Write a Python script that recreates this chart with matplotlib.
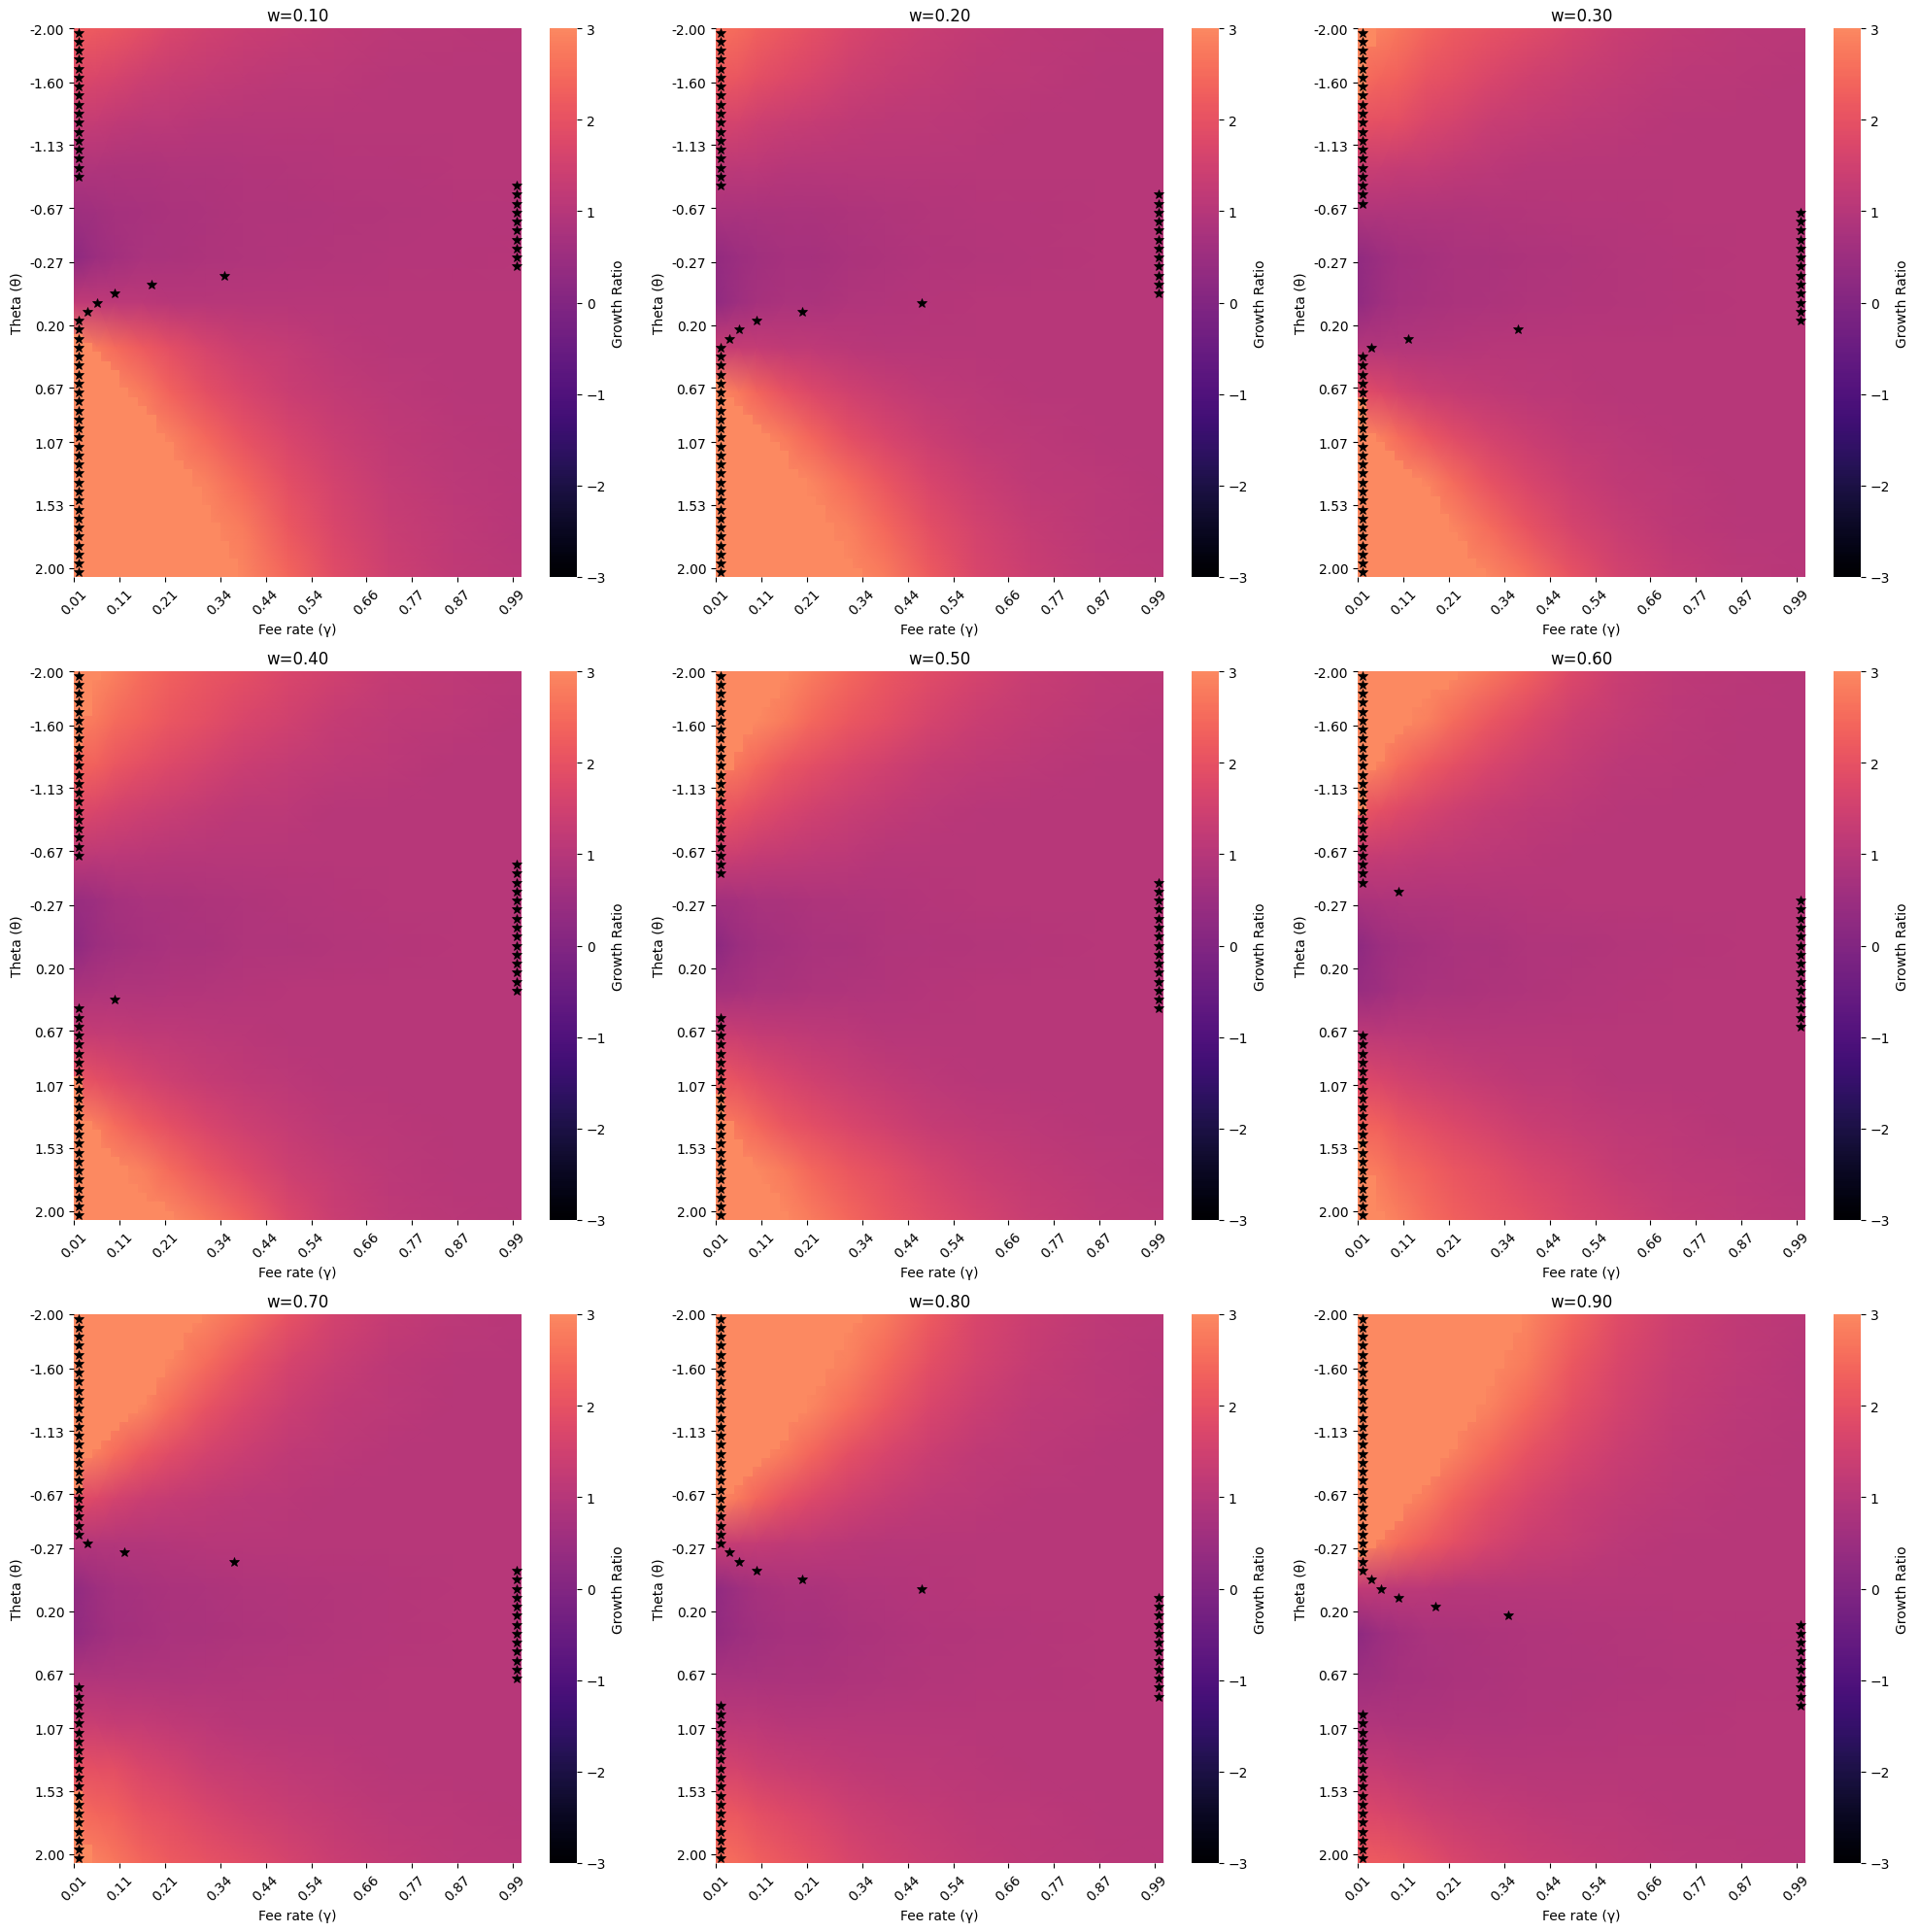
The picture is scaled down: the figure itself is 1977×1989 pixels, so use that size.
import numpy as np
import matplotlib
matplotlib.use("Agg")
import matplotlib.pyplot as plt
from matplotlib.colors import ListedColormap

# axis labels, same on all panels
gamma_labels = ["0.01", "0.11", "0.21", "0.34", "0.44", "0.54", "0.66", "0.77", "0.87", "0.99"]
gamma_ticks = [0, 5, 10, 16, 21, 26, 32, 37, 42, 48]
theta_labels = ["-2.00", "-1.60", "-1.13", "-0.67", "-0.27", "0.20", "0.67", "1.07", "1.53", "2.00"]
theta_ticks = [0, 6, 13, 20, 26, 33, 40, 46, 53, 60]
n_cols = 49
n_rows = 61

read_cols = [0, 2, 4, 7, 10, 14, 18, 23, 28, 34, 41, 48]
read_rows = [0, 5, 10, 15, 20, 25, 30, 35, 40, 45, 50, 55, 60]

w10 = [
    [2.2, 2.2, 2.1, 1.9, 1.7, 1.5, 1.4, 1.27, 1.18, 1.12, 1.07, 1.04],
    [1.8, 1.7, 1.6, 1.45, 1.35, 1.25, 1.2, 1.12, 1.08, 1.05, 1.02, 1.0],
    [1.3, 1.25, 1.2, 1.12, 1.1, 1.05, 1.03, 1.02, 1.0, 1.0, 1.0, 1.0],
    [0.9, 0.88, 0.85, 0.85, 0.87, 0.9, 0.92, 0.95, 0.97, 0.98, 1.0, 1.0],
    [0.55, 0.62, 0.68, 0.74, 0.78, 0.83, 0.87, 0.9, 0.93, 0.95, 0.97, 0.98],
    [0.25, 0.5, 0.65, 0.75, 0.8, 0.85, 0.9, 0.93, 0.95, 0.97, 0.98, 0.99],
    [1.2, 1.15, 1.1, 1.1, 1.05, 1.03, 1.0, 1.0, 1.0, 1.0, 1.0, 1.0],
    [3.0, 2.8, 2.5, 2.2, 1.9, 1.6, 1.4, 1.25, 1.12, 1.05, 1.02, 1.0],
    [3.0, 3.0, 3.0, 2.8, 2.35, 1.95, 1.65, 1.4, 1.22, 1.1, 1.05, 1.02],
    [3.0, 3.0, 3.0, 3.0, 2.9, 2.45, 2.0, 1.65, 1.38, 1.18, 1.07, 1.03],
    [3.0, 3.0, 3.0, 3.0, 3.0, 2.9, 2.45, 1.9, 1.55, 1.25, 1.1, 1.05],
    [3.0, 3.0, 3.0, 3.0, 3.0, 3.0, 2.8, 2.15, 1.7, 1.35, 1.15, 1.05],
    [3.0, 3.0, 3.0, 3.0, 3.0, 3.0, 2.95, 2.4, 1.85, 1.45, 1.2, 1.07],
]
w20 = [
    [2.6, 2.5, 2.3, 2.15, 1.95, 1.7, 1.5, 1.35, 1.22, 1.13, 1.07, 1.04],
    [2.2, 2.1, 1.95, 1.8, 1.65, 1.45, 1.32, 1.22, 1.13, 1.08, 1.04, 1.02],
    [1.6, 1.55, 1.45, 1.35, 1.28, 1.2, 1.14, 1.1, 1.06, 1.03, 1.01, 1.0],
    [1.15, 1.12, 1.08, 1.05, 1.03, 1.0, 1.0, 1.0, 1.0, 1.0, 1.0, 1.0],
    [0.75, 0.75, 0.77, 0.8, 0.82, 0.86, 0.9, 0.95, 0.97, 0.98, 0.99, 1.0],
    [0.35, 0.5, 0.6, 0.68, 0.72, 0.78, 0.85, 0.92, 0.96, 0.98, 0.99, 1.0],
    [0.3, 0.55, 0.68, 0.78, 0.82, 0.88, 0.93, 0.97, 1.0, 1.0, 1.0, 1.0],
    [1.35, 1.3, 1.25, 1.2, 1.15, 1.07, 1.03, 1.0, 1.0, 1.0, 1.0, 1.0],
    [3.0, 2.75, 2.4, 2.0, 1.75, 1.5, 1.33, 1.17, 1.08, 1.04, 1.02, 1.0],
    [3.0, 3.0, 3.0, 2.8, 2.4, 1.95, 1.65, 1.4, 1.2, 1.1, 1.05, 1.02],
    [3.0, 3.0, 3.0, 3.0, 2.95, 2.55, 2.1, 1.65, 1.4, 1.17, 1.08, 1.03],
    [3.0, 3.0, 3.0, 3.0, 3.0, 2.9, 2.45, 1.9, 1.55, 1.3, 1.12, 1.05],
    [3.0, 3.0, 3.0, 3.0, 3.0, 3.0, 2.8, 2.2, 1.7, 1.38, 1.15, 1.07],
]
w30 = [
    [2.9, 2.9, 2.7, 2.4, 2.2, 2.0, 1.85, 1.6, 1.4, 1.22, 1.12, 1.06],
    [2.6, 2.4, 2.3, 2.05, 1.9, 1.7, 1.5, 1.35, 1.22, 1.12, 1.06, 1.03],
    [2.0, 1.95, 1.9, 1.7, 1.55, 1.35, 1.25, 1.15, 1.1, 1.05, 1.02, 1.0],
    [1.4, 1.35, 1.3, 1.25, 1.18, 1.1, 1.05, 1.0, 1.0, 1.0, 1.0, 1.0],
    [0.9, 0.9, 0.9, 0.9, 0.9, 0.93, 0.95, 0.97, 0.98, 1.0, 1.0, 1.0],
    [0.3, 0.5, 0.65, 0.72, 0.75, 0.8, 0.85, 0.9, 0.95, 0.98, 1.0, 1.0],
    [0.3, 0.55, 0.66, 0.74, 0.78, 0.84, 0.88, 0.92, 0.96, 0.98, 1.0, 1.0],
    [0.95, 0.95, 0.95, 0.95, 0.97, 1.0, 1.0, 1.0, 1.0, 1.0, 1.0, 1.0],
    [1.9, 1.75, 1.55, 1.4, 1.3, 1.2, 1.12, 1.06, 1.03, 1.0, 1.0, 1.0],
    [3.0, 2.85, 2.55, 2.15, 1.85, 1.55, 1.37, 1.2, 1.1, 1.05, 1.02, 1.0],
    [3.0, 3.0, 3.0, 2.95, 2.5, 2.0, 1.7, 1.4, 1.2, 1.08, 1.03, 1.02],
    [3.0, 3.0, 3.0, 3.0, 2.95, 2.5, 2.05, 1.6, 1.35, 1.13, 1.05, 1.02],
    [3.0, 3.0, 3.0, 3.0, 3.0, 2.95, 2.6, 2.0, 1.55, 1.27, 1.08, 1.04],
]
w40 = [
    [3.0, 3.0, 2.85, 2.55, 2.3, 2.1, 1.95, 1.7, 1.5, 1.3, 1.17, 1.07],
    [2.9, 2.75, 2.5, 2.3, 2.1, 1.9, 1.7, 1.5, 1.3, 1.17, 1.08, 1.03],
    [2.4, 2.3, 2.1, 1.9, 1.75, 1.55, 1.4, 1.25, 1.15, 1.08, 1.03, 1.0],
    [1.8, 1.7, 1.55, 1.45, 1.35, 1.22, 1.13, 1.08, 1.03, 1.0, 1.0, 1.0],
    [1.15, 1.12, 1.1, 1.07, 1.05, 1.02, 1.0, 1.0, 1.0, 1.0, 1.0, 1.0],
    [0.4, 0.55, 0.68, 0.75, 0.8, 0.85, 0.9, 0.94, 0.97, 0.99, 1.0, 1.0],
    [0.25, 0.5, 0.63, 0.72, 0.76, 0.82, 0.87, 0.91, 0.94, 0.97, 0.99, 1.0],
    [0.8, 0.85, 0.87, 0.9, 0.93, 0.95, 0.97, 0.99, 1.0, 1.0, 1.0, 1.0],
    [1.35, 1.3, 1.25, 1.2, 1.17, 1.12, 1.06, 1.03, 1.0, 1.0, 1.0, 1.0],
    [2.1, 1.95, 1.8, 1.6, 1.45, 1.3, 1.2, 1.1, 1.05, 1.02, 1.0, 1.0],
    [3.0, 2.85, 2.55, 2.2, 1.95, 1.65, 1.45, 1.25, 1.12, 1.06, 1.02, 1.0],
    [3.0, 3.0, 3.0, 2.9, 2.5, 2.1, 1.8, 1.45, 1.25, 1.1, 1.04, 1.0],
    [3.0, 3.0, 3.0, 3.0, 3.0, 2.7, 2.3, 1.75, 1.4, 1.15, 1.06, 1.02],
]
w50 = [
    [3.0, 3.0, 3.0, 3.0, 2.8, 2.45, 2.15, 1.85, 1.6, 1.35, 1.18, 1.08],
    [3.0, 3.0, 3.0, 2.8, 2.45, 2.15, 1.9, 1.6, 1.4, 1.22, 1.1, 1.04],
    [2.8, 2.7, 2.45, 2.1, 1.9, 1.7, 1.5, 1.3, 1.18, 1.1, 1.04, 1.0],
    [2.2, 2.0, 1.85, 1.65, 1.5, 1.35, 1.22, 1.12, 1.05, 1.02, 1.0, 1.0],
    [1.45, 1.38, 1.3, 1.22, 1.15, 1.08, 1.03, 1.0, 1.0, 1.0, 1.0, 1.0],
    [0.65, 0.7, 0.75, 0.8, 0.85, 0.9, 0.93, 0.97, 0.99, 1.0, 1.0, 1.0],
    [0.2, 0.48, 0.62, 0.7, 0.76, 0.82, 0.87, 0.92, 0.95, 0.98, 1.0, 1.0],
    [0.65, 0.7, 0.75, 0.8, 0.85, 0.9, 0.93, 0.97, 0.99, 1.0, 1.0, 1.0],
    [1.45, 1.38, 1.3, 1.22, 1.15, 1.08, 1.03, 1.0, 1.0, 1.0, 1.0, 1.0],
    [2.2, 2.0, 1.85, 1.65, 1.5, 1.35, 1.22, 1.12, 1.05, 1.02, 1.0, 1.0],
    [2.8, 2.7, 2.45, 2.1, 1.9, 1.7, 1.5, 1.3, 1.18, 1.1, 1.04, 1.0],
    [3.0, 3.0, 3.0, 2.8, 2.45, 2.15, 1.9, 1.6, 1.4, 1.22, 1.1, 1.04],
    [3.0, 3.0, 3.0, 3.0, 2.8, 2.45, 2.15, 1.85, 1.6, 1.35, 1.18, 1.08],
]
w60 = [
    [3.0, 3.0, 3.0, 3.0, 3.0, 2.7, 2.3, 1.75, 1.4, 1.15, 1.06, 1.02],
    [3.0, 3.0, 3.0, 2.9, 2.5, 2.1, 1.8, 1.45, 1.25, 1.1, 1.04, 1.0],
    [3.0, 2.85, 2.55, 2.2, 1.95, 1.65, 1.45, 1.25, 1.12, 1.06, 1.02, 1.0],
    [2.1, 1.95, 1.8, 1.6, 1.45, 1.3, 1.2, 1.1, 1.05, 1.02, 1.0, 1.0],
    [1.35, 1.3, 1.25, 1.2, 1.17, 1.12, 1.06, 1.03, 1.0, 1.0, 1.0, 1.0],
    [0.8, 0.85, 0.87, 0.9, 0.93, 0.95, 0.97, 0.99, 1.0, 1.0, 1.0, 1.0],
    [0.25, 0.5, 0.63, 0.72, 0.76, 0.82, 0.87, 0.91, 0.94, 0.97, 0.99, 1.0],
    [0.4, 0.55, 0.68, 0.75, 0.8, 0.85, 0.9, 0.94, 0.97, 0.99, 1.0, 1.0],
    [1.15, 1.12, 1.1, 1.07, 1.05, 1.02, 1.0, 1.0, 1.0, 1.0, 1.0, 1.0],
    [1.8, 1.7, 1.55, 1.45, 1.35, 1.22, 1.13, 1.08, 1.03, 1.0, 1.0, 1.0],
    [2.4, 2.3, 2.1, 1.9, 1.75, 1.55, 1.4, 1.25, 1.15, 1.08, 1.03, 1.0],
    [2.9, 2.75, 2.5, 2.3, 2.1, 1.9, 1.7, 1.5, 1.3, 1.17, 1.08, 1.03],
    [3.0, 3.0, 2.85, 2.55, 2.3, 2.1, 1.95, 1.7, 1.5, 1.3, 1.17, 1.07],
]
w70 = [
    [3.0, 3.0, 3.0, 3.0, 3.0, 2.95, 2.6, 2.0, 1.55, 1.27, 1.08, 1.04],
    [3.0, 3.0, 3.0, 3.0, 2.95, 2.5, 2.05, 1.6, 1.35, 1.13, 1.05, 1.02],
    [3.0, 3.0, 3.0, 2.95, 2.5, 2.0, 1.7, 1.4, 1.2, 1.08, 1.03, 1.02],
    [3.0, 2.85, 2.55, 2.15, 1.85, 1.55, 1.37, 1.2, 1.1, 1.05, 1.02, 1.0],
    [1.9, 1.75, 1.55, 1.4, 1.3, 1.2, 1.12, 1.06, 1.03, 1.0, 1.0, 1.0],
    [0.95, 0.95, 0.95, 0.95, 0.97, 1.0, 1.0, 1.0, 1.0, 1.0, 1.0, 1.0],
    [0.3, 0.55, 0.66, 0.74, 0.78, 0.84, 0.88, 0.92, 0.96, 0.98, 1.0, 1.0],
    [0.3, 0.5, 0.65, 0.72, 0.75, 0.8, 0.85, 0.9, 0.95, 0.98, 1.0, 1.0],
    [0.9, 0.9, 0.9, 0.9, 0.9, 0.93, 0.95, 0.97, 0.98, 1.0, 1.0, 1.0],
    [1.4, 1.35, 1.3, 1.25, 1.18, 1.1, 1.05, 1.0, 1.0, 1.0, 1.0, 1.0],
    [2.0, 1.95, 1.9, 1.7, 1.55, 1.35, 1.25, 1.15, 1.1, 1.05, 1.02, 1.0],
    [2.6, 2.4, 2.3, 2.05, 1.9, 1.7, 1.5, 1.35, 1.22, 1.12, 1.06, 1.03],
    [2.9, 2.9, 2.7, 2.4, 2.2, 2.0, 1.85, 1.6, 1.4, 1.22, 1.12, 1.06],
]
w80 = [
    [3.0, 3.0, 3.0, 3.0, 3.0, 3.0, 2.8, 2.2, 1.7, 1.38, 1.15, 1.07],
    [3.0, 3.0, 3.0, 3.0, 3.0, 2.9, 2.45, 1.9, 1.55, 1.3, 1.12, 1.05],
    [3.0, 3.0, 3.0, 3.0, 2.95, 2.55, 2.1, 1.65, 1.4, 1.17, 1.08, 1.03],
    [3.0, 3.0, 3.0, 2.8, 2.4, 1.95, 1.65, 1.4, 1.2, 1.1, 1.05, 1.02],
    [3.0, 2.75, 2.4, 2.0, 1.75, 1.5, 1.33, 1.17, 1.08, 1.04, 1.02, 1.0],
    [1.35, 1.3, 1.25, 1.2, 1.15, 1.07, 1.03, 1.0, 1.0, 1.0, 1.0, 1.0],
    [0.3, 0.55, 0.68, 0.78, 0.82, 0.88, 0.93, 0.97, 1.0, 1.0, 1.0, 1.0],
    [0.35, 0.5, 0.6, 0.68, 0.72, 0.78, 0.85, 0.92, 0.96, 0.98, 0.99, 1.0],
    [0.75, 0.75, 0.77, 0.8, 0.82, 0.86, 0.9, 0.95, 0.97, 0.98, 0.99, 1.0],
    [1.15, 1.12, 1.08, 1.05, 1.03, 1.0, 1.0, 1.0, 1.0, 1.0, 1.0, 1.0],
    [1.6, 1.55, 1.45, 1.35, 1.28, 1.2, 1.14, 1.1, 1.06, 1.03, 1.01, 1.0],
    [2.2, 2.1, 1.95, 1.8, 1.65, 1.45, 1.32, 1.22, 1.13, 1.08, 1.04, 1.02],
    [2.6, 2.5, 2.3, 2.15, 1.95, 1.7, 1.5, 1.35, 1.22, 1.13, 1.07, 1.04],
]
w90 = [
    [3.0, 3.0, 3.0, 3.0, 3.0, 3.0, 2.95, 2.4, 1.85, 1.45, 1.2, 1.07],
    [3.0, 3.0, 3.0, 3.0, 3.0, 3.0, 2.8, 2.15, 1.7, 1.35, 1.15, 1.05],
    [3.0, 3.0, 3.0, 3.0, 3.0, 2.9, 2.45, 1.9, 1.55, 1.25, 1.1, 1.05],
    [3.0, 3.0, 3.0, 3.0, 2.9, 2.45, 2.0, 1.65, 1.38, 1.18, 1.07, 1.03],
    [3.0, 3.0, 3.0, 2.8, 2.35, 1.95, 1.65, 1.4, 1.22, 1.1, 1.05, 1.02],
    [3.0, 2.8, 2.5, 2.2, 1.9, 1.6, 1.4, 1.25, 1.12, 1.05, 1.02, 1.0],
    [1.2, 1.15, 1.1, 1.1, 1.05, 1.03, 1.0, 1.0, 1.0, 1.0, 1.0, 1.0],
    [0.25, 0.5, 0.65, 0.75, 0.8, 0.85, 0.9, 0.93, 0.95, 0.97, 0.98, 0.99],
    [0.55, 0.62, 0.68, 0.74, 0.78, 0.83, 0.87, 0.9, 0.93, 0.95, 0.97, 0.98],
    [0.9, 0.88, 0.85, 0.85, 0.87, 0.9, 0.92, 0.95, 0.97, 0.98, 1.0, 1.0],
    [1.3, 1.25, 1.2, 1.12, 1.1, 1.05, 1.03, 1.02, 1.0, 1.0, 1.0, 1.0],
    [1.8, 1.7, 1.6, 1.45, 1.35, 1.25, 1.2, 1.12, 1.08, 1.05, 1.02, 1.0],
    [2.2, 2.2, 2.1, 1.9, 1.7, 1.5, 1.4, 1.27, 1.18, 1.12, 1.07, 1.04],
]

# how many cells of each theta row sit at the top of the scale (the orange staircase)
sat_w10 = [0] * 34 + [1, 2, 3, 4, 5, 5, 6, 7, 8, 9, 9, 10, 11, 11, 12, 13, 13, 14, 14, 15, 15, 16, 16, 17, 17, 18, 18]
sat_w20 = [0] * 39 + [1, 1, 2, 3, 4, 5, 6, 7, 8, 8, 9, 10, 10, 11, 12, 12, 13, 13, 14, 14, 15, 16]
sat_w30 = [2, 2, 1, 1, 1, 1, 1, 1] + [0] * 33 + [1, 1, 1, 1, 2, 3, 4, 5, 6, 7, 8, 9, 9, 10, 10, 11, 12, 12, 13, 14]
sat_w40 = [3, 2, 2, 2, 2, 1, 1, 1, 1] + [0] * 36 + [1, 1, 1, 1, 1, 2, 3, 3, 4, 5, 6, 6, 7, 8, 10, 11]
sat_w50 = [8, 7, 7, 6, 5, 4, 4, 3, 3, 2, 2, 1, 1, 1] + [0] * 33 + [1, 1, 1, 2, 2, 3, 3, 4, 4, 5, 6, 7, 7, 8]
sat_w60 = [11, 10, 8, 7, 6, 6, 5, 4, 3, 3, 2, 1, 1, 1, 1, 1] + [0] * 36 + [1, 1, 1, 1, 2, 2, 2, 2, 3]
sat_w70 = [14, 13, 12, 12, 11, 10, 10, 9, 9, 8, 7, 6, 5, 4, 3, 2, 1, 1, 1, 1] + [0] * 33 + [1, 1, 1, 1, 1, 1, 2, 2]
sat_w80 = [16, 15, 14, 14, 13, 13, 12, 12, 11, 10, 10, 9, 8, 8, 7, 6, 5, 4, 3, 2, 1, 1] + [0] * 39
sat_w90 = [18, 18, 17, 17, 16, 16, 15, 15, 14, 14, 13, 13, 12, 11, 11, 10, 9, 9, 8, 7, 6, 5, 5, 4, 3, 2, 1] + [0] * 34

# starred column of each theta row, top to bottom
stars_w10 = [0] * 17 + [48] * 10 + [16, 8, 4, 2, 1] + [0] * 29
stars_w20 = [0] * 18 + [48] * 12 + [22, 9, 4, 2, 1] + [0] * 26
stars_w30 = [0] * 20 + [48] * 13 + [17, 5, 1] + [0] * 25
stars_w40 = [0] * 21 + [48] * 15 + [4] + [0] * 24
stars_w50 = [0] * 23 + [48] * 15 + [0] * 23
stars_w60 = [0] * 24 + [4] + [48] * 15 + [0] * 21
stars_w70 = [0] * 25 + [1, 5, 17] + [48] * 13 + [0] * 20
stars_w80 = [0] * 26 + [1, 2, 4, 9, 22] + [48] * 12 + [0] * 18
stars_w90 = [0] * 29 + [1, 2, 4, 8, 16] + [48] * 10 + [0] * 17

w_values = [0.10, 0.20, 0.30, 0.40, 0.50, 0.60, 0.70, 0.80, 0.90]
grids = [w10, w20, w30, w40, w50, w60, w70, w80, w90]
sat_cells = [sat_w10, sat_w20, sat_w30, sat_w40, sat_w50, sat_w60, sat_w70, sat_w80, sat_w90]
star_cols = [stars_w10, stars_w20, stars_w30, stars_w40, stars_w50,
             stars_w60, stars_w70, stars_w80, stars_w90]

# seaborn's center=1 look: magma cut off at 3/4
cmap = ListedColormap(matplotlib.colormaps["magma"](np.linspace(0, 0.75, 256)))

W, H = 1977, 1990
lefts = [76, 737, 1398]
tops = [30, 692, 1354]
ax_w, ax_h = 461, 565

# cell centres, with the outer ones pushed out to the axes edge
xs = np.array(read_cols) + 0.5
ys = np.array(read_rows) + 0.5
xs[0], xs[-1] = 0, n_cols
ys[0], ys[-1] = 0, n_rows

fig = plt.figure(figsize=(W / 100, H / 100), dpi=100)

for i, w in enumerate(w_values):
    left = lefts[i % 3]
    top = tops[i // 3]
    ax = fig.add_axes([left / W, 1 - (top + ax_h) / H, ax_w / W, ax_h / H])
    mesh = ax.pcolormesh(xs, ys, np.array(grids[i]), shading="gouraud",
                         cmap=cmap, vmin=-3, vmax=3)
    sat = sat_cells[i]
    ax.barh(np.arange(len(sat)) + 0.5, sat, height=1, color=cmap(1.0),
            linewidth=0, antialiased=False)
    ax.plot(np.array(star_cols[i]) + 0.5, np.arange(n_rows) + 0.5, linestyle="none",
            marker="*", color="black", markersize=7, markeredgewidth=0.5, clip_on=False)
    ax.set_xlim(0, n_cols)
    ax.set_ylim(n_rows, 0)
    for side in ax.spines.values():
        side.set_visible(False)
    ax.set_xticks(gamma_ticks)
    ax.set_xticklabels(gamma_labels, rotation=45)
    ax.set_yticks(theta_ticks)
    ax.set_yticklabels(theta_labels, rotation=0)
    ax.set_title(f"w={w:.2f}")
    ax.set_xlabel("Fee rate (γ)")
    ax.set_ylabel("Theta (θ)")

    cax = fig.add_axes([(left + 490) / W, 1 - (top + ax_h) / H, 28 / W, ax_h / H])
    cb = fig.colorbar(mesh, cax=cax)
    cb.set_label("Growth Ratio")
    cb.set_ticks([-3, -2, -1, 0, 1, 2, 3])
    cb.outline.set_linewidth(0)

plt.savefig("out.png", dpi=100)
